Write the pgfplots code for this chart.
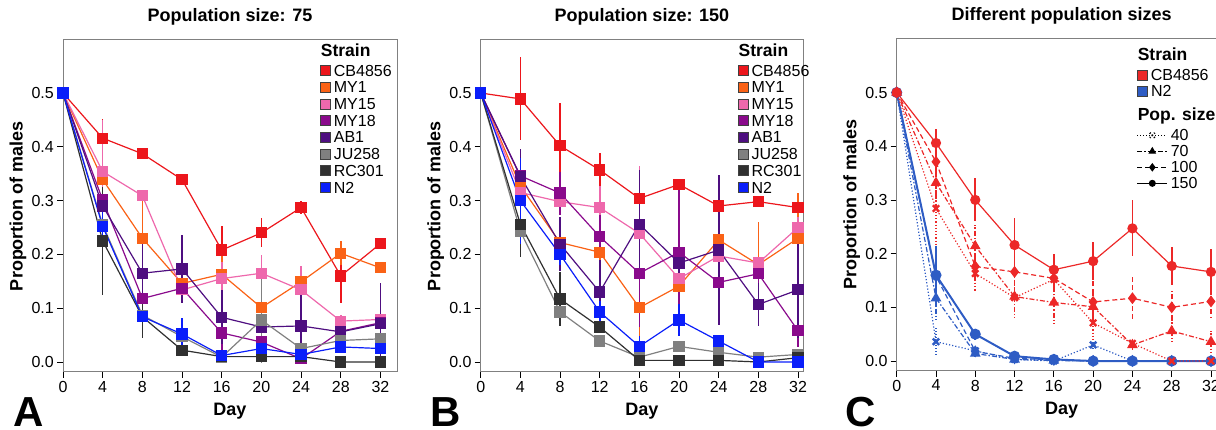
\documentclass[border=0pt]{standalone}
\usepackage{fontspec}
\setmainfont{Liberation Sans}
\usepackage{pgfplots}
\pgfplotsset{compat=1.18}

\definecolor{cCB}{RGB}{236,22,28}
\definecolor{cMYa}{RGB}{250,98,22}
\definecolor{cMYb}{RGB}{238,104,172}
\definecolor{cMYc}{RGB}{138,10,140}
\definecolor{cAB}{RGB}{78,14,128}
\definecolor{cJU}{RGB}{128,128,128}
\definecolor{cRC}{RGB}{48,48,48}
\definecolor{cN}{RGB}{10,30,250}
\definecolor{cRedC}{RGB}{236,40,40}
\definecolor{cBlueC}{RGB}{46,92,196}

\newcommand{\ls}{\rule[-5pt]{0pt}{16.7pt}}
\newcommand{\lt}{\rule[-7.6pt]{0pt}{19.3pt}}

\pgfplotsset{
  panel/.style={
    scale only axis, anchor=south west, clip=false,
    xmin=0, ymin=-0.0186, ymax=0.5985,
    xtick={0,4,...,32}, xticklabels={0,4,8,12,16,20,24,28,32},
    ytick={0,0.1,0.2,0.3,0.4,0.5}, yticklabels={0.0,0.1,0.2,0.3,0.4,0.5},
    tick pos=left, tick align=outside, major tick length=6pt,
    tick style={black, line width=0.8pt},
    axis line style={gray, line width=1pt},
    ticklabel style={font=\fontsize{16}{16}\selectfont, inner sep=3pt},
    xlabel={Day}, ylabel={Proportion of males},
    label style={font=\bfseries\fontsize{18}{18}\selectfont},
    xlabel style={at={(axis description cs:0.5,0)}, anchor=center, yshift=-39pt},
    ylabel style={at={(axis description cs:0,0.5)}, anchor=center, yshift=45pt},
    title style={font=\bfseries\fontsize{18}{18}\selectfont, at={(axis description cs:0.5,1)}, anchor=base, yshift=12pt},
    legend style={draw=none, fill=none, inner sep=0pt, column sep=3pt, row sep=0pt,
      font=\fontsize{16}{16}\selectfont,
      nodes={inner sep=0pt, text depth=, text height=}, cells={anchor=base west}},
  },
  sqleg/.style={legend image code/.code={\draw[##1, draw=black!75, line width=0.5pt, solid] (0pt,0.8pt) rectangle (10pt,10.8pt);}},
  lineleg/.style={legend image code/.code={\draw[##1, mark repeat=2, mark phase=2] plot coordinates {(0pt,5.5pt)(15pt,5.5pt)(30pt,5.5pt)};}},
  sq/.style={mark=square*, mark size=5pt, line width=1.2pt, forget plot,
    error bars/y dir=both, error bars/y explicit, error bars/error mark=none,
    error bars/error bar style={line width=1.6pt}},
  cc/.style={line width=1.2pt, forget plot, mark options={solid},
    error bars/y dir=both, error bars/y explicit, error bars/error mark=none,
    error bars/error bar style={line width=1.6pt}},
  p40/.style={dotted, mark=x, mark size=4.5pt, mark options={solid, line width=2.4pt}},
  p70/.style={dash pattern=on 5pt off 2pt on 1.5pt off 2pt, mark=triangle*, mark size=5pt},
  p100/.style={dash pattern=on 5pt off 3pt, mark=diamond*, mark size=5pt},
  p150/.style={solid, mark=*, mark size=4.5pt},
}

\begin{document}
\begin{tikzpicture}
\useasboundingbox (0,0) rectangle (1216pt,430pt);

% ---------- A : population size 75
\begin{axis}[panel, at={(63pt,58pt)}, width=334pt, height=332pt, xmax=33.67,
  title={Population size: 75},
  legend style={at={(axis description cs:0.77,0.988)}, anchor=north west}]
\addplot[sq, cCB] coordinates {(0,0.5) (4,0.416)+-(0,0.035) (8,0.387)+-(0,0.006) (12,0.339)+-(0,0.005) (16,0.208)+-(0,0.045) (20,0.240)+-(0,0.027) (24,0.287)+-(0,0.012) (28,0.160)+-(0,0.05) (32,0.220)+-(0,0.005)};
\addplot[sq, cMYa] coordinates {(0,0.5) (4,0.339)+-(0,0.012) (8,0.230)+-(0,0.07) (12,0.146)+-(0,0.012) (16,0.163)+-(0,0.05) (20,0.101)+-(0,0.012) (24,0.149)+-(0,0.02) (28,0.202)+-(0,0.022) (32,0.175)+-(0,0.005)};
\addplot[sq, cMYb] coordinates {(0,0.5) (4,0.354)+-(0,0.095) (8,0.309)+-(0,0.01) (12,0.134)+-(0,0.02) (16,0.155)+-(0,0.03) (20,0.165)+-(0,0.033) (24,0.134)+-(0,0.045) (28,0.076)+-(0,0.012) (32,0.079)+-(0,0.01)};
\addplot[sq, cMYc] coordinates {(0,0.5) (4,0.301)+-(0,0.02) (8,0.118)+-(0,0.03) (12,0.137)+-(0,0.02) (16,0.054)+-(0,0.04) (20,0.037)+-(0,0.02) (24,0.006)+-(0,0.005) (28,0.057)+-(0,0.02) (32,0.073)+-(0,0.01)};
\addplot[sq, cAB] coordinates {(0,0.5) (4,0.290)+-(0,0.02) (8,0.165)+-(0,0.06) (12,0.173)+-(0,0.063) (16,0.083)+-(0,0.05) (20,0.065)+-(0,0.025) (24,0.067)+-(0,0.06) (28,0.056)+-(0,0.01) (32,0.071)+-(0,0.075)};
\addplot[sq, cJU] coordinates {(0,0.5) (4,0.255)+-(0,0.03) (8,0.087)+-(0,0.03) (12,0.047)+-(0,0.01) (16,0.009)+-(0,0.005) (20,0.078)+-(0,0.08) (24,0.025)+-(0,0.005) (28,0.040)+-(0,0.005) (32,0.043)+-(0,0.005)};
\addplot[sq, cRC] coordinates {(0,0.5) (4,0.225)+-(0,0.1) (8,0.084)+-(0,0.04) (12,0.022)+-(0,0.01) (16,0.010)+-(0,0.003) (20,0.010)+-(0,0.003) (24,0.010)+-(0,0.003) (28,0) (32,0)};
\addplot[sq, cN] coordinates {(0,0.5) (4,0.252)+-(0,0.03) (8,0.084)+-(0,0.01) (12,0.052)+-(0,0.03) (16,0.012)+-(0,0.005) (20,0.025)+-(0,0.02) (24,0.014)+-(0,0.004) (28,0.028)+-(0,0.005) (32,0.025)+-(0,0.005)};
\addlegendimage{empty legend}\addlegendentry{\hspace*{-13pt}\lt\textbf{\fontsize{17.5}{17.5}\selectfont Strain}}
\addlegendimage{sqleg, fill=cCB}\addlegendentry{\ls CB4856}
\addlegendimage{sqleg, fill=cMYa}\addlegendentry{\ls MY1}
\addlegendimage{sqleg, fill=cMYb}\addlegendentry{\ls MY15}
\addlegendimage{sqleg, fill=cMYc}\addlegendentry{\ls MY18}
\addlegendimage{sqleg, fill=cAB}\addlegendentry{\ls AB1}
\addlegendimage{sqleg, fill=cJU}\addlegendentry{\ls JU258}
\addlegendimage{sqleg, fill=cRC}\addlegendentry{\ls RC301}
\addlegendimage{sqleg, fill=cN}\addlegendentry{\ls N2}
\end{axis}

% ---------- B : population size 150
\begin{axis}[panel, at={(480.7pt,58pt)}, width=322.3pt, height=332pt, xmax=32.5,
  title={Population size: 150},
  legend style={at={(axis description cs:0.798,0.988)}, anchor=north west}]
\addplot[sq, cCB] coordinates {(0,0.5) (4,0.489)+-(0,0.077) (8,0.402)+-(0,0.08) (12,0.357)+-(0,0.032) (16,0.304)+-(0,0.01) (20,0.330)+-(0,0.01) (24,0.290)+-(0,0.01) (28,0.298)+-(0,0.008) (32,0.287)+-(0,0.01)};
\addplot[sq, cMYa] coordinates {(0,0.5) (4,0.327)+-(0,0.02) (8,0.222)+-(0,0.04) (12,0.204)+-(0,0.02) (16,0.101)+-(0,0.09) (20,0.141)+-(0,0.08) (24,0.227)+-(0,0.04) (28,0.181)+-(0,0.08) (32,0.230)+-(0,0.085)};
\addplot[sq, cMYb] coordinates {(0,0.5) (4,0.315)+-(0,0.02) (8,0.298)+-(0,0.01) (12,0.287)+-(0,0.04) (16,0.239)+-(0,0.125) (20,0.155)+-(0,0.02) (24,0.197)+-(0,0.03) (28,0.184)+-(0,0.01) (32,0.250)+-(0,0.02)};
\addplot[sq, cMYc] coordinates {(0,0.5) (4,0.346)+-(0,0.04) (8,0.314)+-(0,0.04) (12,0.233)+-(0,0.04) (16,0.165)+-(0,0.1) (20,0.204)+-(0,0.13) (24,0.148)+-(0,0.08) (28,0.164)+-(0,0.02) (32,0.058)+-(0,0.03)};
\addplot[sq, cAB] coordinates {(0,0.5) (4,0.345)+-(0,0.05) (8,0.219)+-(0,0.05) (12,0.130)+-(0,0.06) (16,0.256)+-(0,0.1) (20,0.184)+-(0,0.02) (24,0.208)+-(0,0.14) (28,0.107)+-(0,0.04) (32,0.134)+-(0,0.09)};
\addplot[sq, cJU] coordinates {(0,0.5) (4,0.243)+-(0,0.04) (8,0.093)+-(0,0.02) (12,0.039)+-(0,0.005) (16,0.009)+-(0,0.003) (20,0.029)+-(0,0.005) (24,0.018)+-(0,0.004) (28,0.009)+-(0,0.004) (32,0.014)+-(0,0.01)};
\addplot[sq, cRC] coordinates {(0,0.5) (4,0.256)+-(0,0.06) (8,0.117)+-(0,0.05) (12,0.065)+-(0,0.01) (16,0.003) (20,0.003) (24,0.003) (28,0.0) (32,0.008)};
\addplot[sq, cN] coordinates {(0,0.5) (4,0.300)+-(0,0.08) (8,0.200)+-(0,0.02) (12,0.093)+-(0,0.02) (16,0.029)+-(0,0.02) (20,0.078)+-(0,0.03) (24,0.039)+-(0,0.005) (28,0) (32,0)};
\addlegendimage{empty legend}\addlegendentry{\hspace*{-13pt}\lt\textbf{\fontsize{17.5}{17.5}\selectfont Strain}}
\addlegendimage{sqleg, fill=cCB}\addlegendentry{\ls CB4856}
\addlegendimage{sqleg, fill=cMYa}\addlegendentry{\ls MY1}
\addlegendimage{sqleg, fill=cMYb}\addlegendentry{\ls MY15}
\addlegendimage{sqleg, fill=cMYc}\addlegendentry{\ls MY18}
\addlegendimage{sqleg, fill=cAB}\addlegendentry{\ls AB1}
\addlegendimage{sqleg, fill=cJU}\addlegendentry{\ls JU258}
\addlegendimage{sqleg, fill=cRC}\addlegendentry{\ls RC301}
\addlegendimage{sqleg, fill=cN}\addlegendentry{\ls N2}
\end{axis}

% ---------- C : different population sizes
\begin{axis}[panel, at={(896.7pt,59.3pt)}, width=330pt, height=332.4pt, xmax=33.6,
  ymin=-0.018, ymax=0.601,
  title={Different population sizes},
  legend style={at={(axis description cs:0.727,0.971)}, anchor=north west}]
% N2
\addplot[cc, cBlueC, p40] coordinates {(0,0.5) (4,0.036)+-(0,0.025) (8,0.019)+-(0,0.008) (12,0.003) (16,0) (20,0.030)+-(0,0.006) (24,0) (28,0) (32,0)};
\addplot[cc, cBlueC, p70] coordinates {(0,0.5) (4,0.117)+-(0,0.04) (8,0.014)+-(0,0.006) (12,0.003) (16,0.001) (20,0) (24,0) (28,0) (32,0)};
\addplot[cc, cBlueC, p100] coordinates {(0,0.5) (4,0.158)+-(0,0.05) (8,0.018)+-(0,0.006) (12,0.005) (16,0.002) (20,0) (24,0) (28,0) (32,0)};
\addplot[cc, cBlueC, p150, line width=2pt] coordinates {(0,0.5) (4,0.160)+-(0,0.055) (8,0.050)+-(0,0.01) (12,0.009) (16,0.003) (20,0) (24,0) (28,0) (32,0)};
% CB4856
\addplot[cc, cRedC, p40] coordinates {(0,0.5) (4,0.284)+-(0,0.07) (8,0.163)+-(0,0.035) (12,0.118)+-(0,0.04) (16,0.152)+-(0,0.005) (20,0.071)+-(0,0.03) (24,0.033)+-(0,0.01) (28,0) (32,0)};
\addplot[cc, cRedC, p70] coordinates {(0,0.5) (4,0.332)+-(0,0.05) (8,0.214)+-(0,0.04) (12,0.120)+-(0,0.03) (16,0.109)+-(0,0.04) (20,0.101)+-(0,0.03) (24,0.030)+-(0,0.01) (28,0.056)+-(0,0.02) (32,0.036)+-(0,0.02)};
\addplot[cc, cRedC, p100] coordinates {(0,0.5) (4,0.371)+-(0,0.04) (8,0.176)+-(0,0.03) (12,0.166)+-(0,0.04) (16,0.154)+-(0,0.03) (20,0.110)+-(0,0.04) (24,0.117)+-(0,0.04) (28,0.100)+-(0,0.03) (32,0.111)+-(0,0.03)};
\addplot[cc, cRedC, p150] coordinates {(0,0.5) (4,0.406)+-(0,0.027) (8,0.300)+-(0,0.04) (12,0.216)+-(0,0.05) (16,0.170)+-(0,0.03) (20,0.186)+-(0,0.035) (24,0.247)+-(0,0.052) (28,0.177)+-(0,0.036) (32,0.166)+-(0,0.043)};
\addlegendimage{empty legend}\addlegendentry{\hspace*{-33pt}\rule[-8.5pt]{0pt}{20pt}\textbf{\fontsize{17.5}{17.5}\selectfont Strain}}
\addlegendimage{sqleg, fill=cRedC}\addlegendentry{\hspace*{-20pt}\rule[-4.5pt]{0pt}{16pt}CB4856}
\addlegendimage{sqleg, fill=cBlueC}\addlegendentry{\hspace*{-20pt}\rule[-4.5pt]{0pt}{16pt}N2}
\addlegendimage{empty legend}\addlegendentry{\hspace*{-33pt}\rule[-9pt]{0pt}{28pt}\textbf{\fontsize{17.5}{17.5}\selectfont Pop. size}}
\addlegendimage{lineleg, black, line width=1pt, p40, mark size=3.5pt, mark options={line width=1.8pt}}\addlegendentry{\rule[-4.5pt]{0pt}{16pt}40}
\addlegendimage{lineleg, black, line width=1pt, p70, mark size=3.5pt, mark options={solid}}\addlegendentry{\rule[-4.5pt]{0pt}{16pt}70}
\addlegendimage{lineleg, black, line width=1pt, p100, mark size=3.5pt, mark options={solid}}\addlegendentry{\rule[-4.5pt]{0pt}{16pt}100}
\addlegendimage{lineleg, black, line width=1pt, p150, mark size=3pt}\addlegendentry{\rule[-4.5pt]{0pt}{16pt}150}
\end{axis}

\node[anchor=base west, inner sep=0pt, font=\bfseries\fontsize{42}{42}\selectfont] at (13pt,3pt) {A};
\node[anchor=base west, inner sep=0pt, font=\bfseries\fontsize{42}{42}\selectfont] at (430pt,3pt) {B};
\node[anchor=base west, inner sep=0pt, font=\bfseries\fontsize{42}{42}\selectfont] at (845pt,3pt) {C};
\end{tikzpicture}
\end{document}
